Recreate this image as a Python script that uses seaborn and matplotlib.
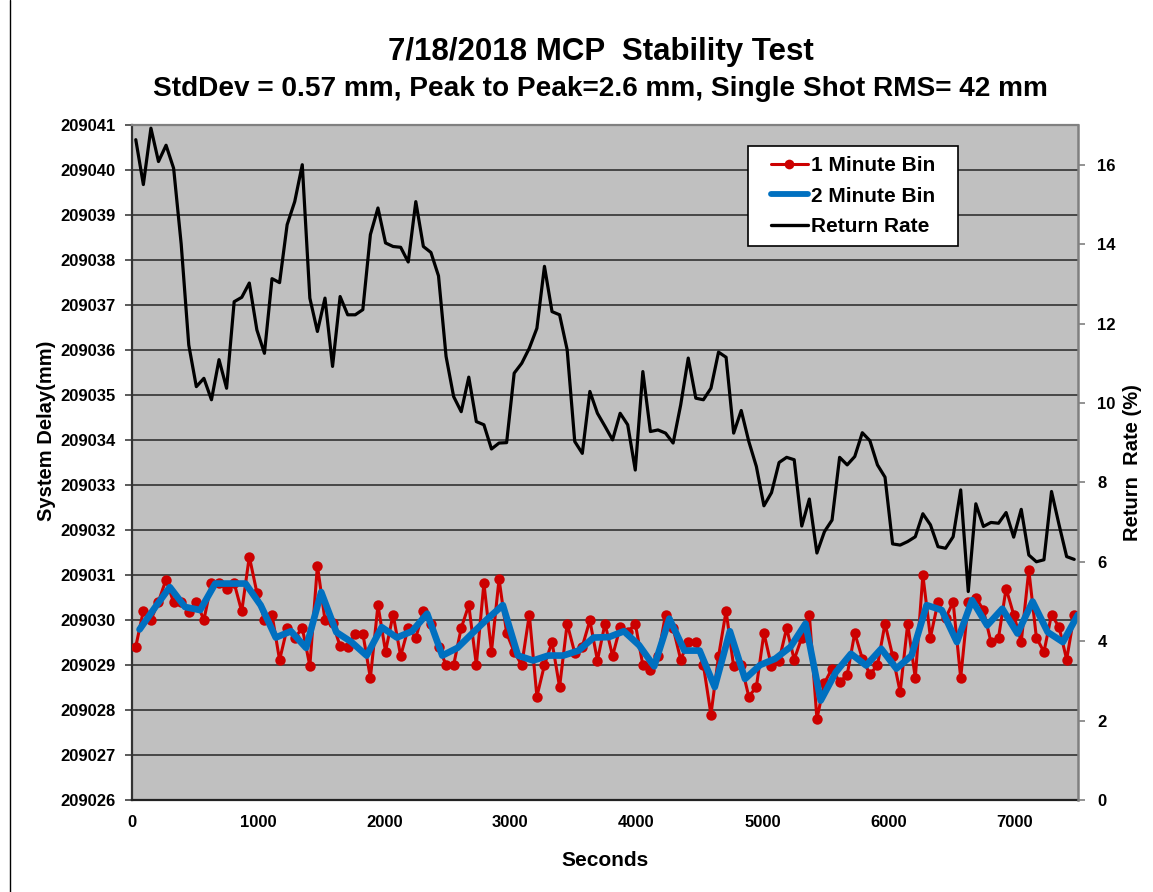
import numpy as np
import matplotlib
matplotlib.use("Agg")
import matplotlib.pyplot as plt
import seaborn as sns
from matplotlib.patches import Rectangle
from matplotlib.lines import Line2D
from matplotlib.ticker import MultipleLocator, FuncFormatter

# ---- data -------------------------------------------------------------
# sample times (s): 1-minute bins and 2-minute bins
seconds_1min = np.arange(30, 7471, 60)
seconds_2min = np.arange(60, 7501, 120)

# system delay, 1-minute bins (mm)
delay_1min = [
    209029.41, 209030.20, 209030.00, 209030.41, 209030.90, 209030.39, 209030.41, 209030.18, 209030.41, 209030.00,
    209030.82, 209030.82, 209030.68, 209030.82, 209030.19, 209031.41, 209030.61, 209030.00, 209030.12, 209029.11,
    209029.82, 209029.60, 209029.82, 209028.98, 209031.21, 209030.00, 209029.93, 209029.42, 209029.41, 209029.70,
    209029.70, 209028.71, 209030.33, 209029.30, 209030.12, 209029.20, 209029.82, 209029.61, 209030.19, 209029.92,
    209029.41, 209029.00, 209029.00, 209029.82, 209030.33, 209029.00, 209030.82, 209029.30, 209030.91, 209029.71,
    209029.29, 209029.00, 209030.12, 209028.30, 209029.00, 209029.51, 209028.51, 209029.92, 209029.27, 209029.41,
    209029.99, 209029.10, 209029.92, 209029.20, 209029.84, 209029.73, 209029.92, 209029.00, 209028.89, 209029.19,
    209030.12, 209029.82, 209029.12, 209029.51, 209029.51, 209029.00, 209027.90, 209029.19, 209030.20, 209028.97,
    209029.00, 209028.30, 209028.51, 209029.71, 209028.97, 209029.10, 209029.82, 209029.12, 209029.61, 209030.12,
    209027.80, 209028.60, 209028.92, 209028.62, 209028.78, 209029.71, 209029.14, 209028.80, 209028.99, 209029.92,
    209029.21, 209028.40, 209029.92, 209028.71, 209031.00, 209029.61, 209030.40, 209030.04, 209030.40, 209028.71,
    209030.40, 209030.50, 209030.22, 209029.51, 209029.61, 209030.70, 209030.12, 209029.51, 209031.11, 209029.61,
    209029.29, 209030.12, 209029.84, 209029.12, 209030.12,
]

# system delay, 2-minute bins (mm)
delay_2min = [
    209029.79, 209030.27, 209030.73, 209030.29, 209030.22, 209030.81, 209030.81, 209030.81, 209030.33, 209029.61,
    209029.75, 209029.38, 209030.62, 209029.73, 209029.51, 209029.21, 209029.84, 209029.61, 209029.75, 209030.14,
    209029.21, 209029.38, 209029.71, 209030.03, 209030.33, 209029.21, 209029.10, 209029.21, 209029.21, 209029.32,
    209029.61, 209029.62, 209029.75, 209029.44, 209028.97, 209030.03, 209029.32, 209029.32, 209028.51, 209029.75,
    209028.69, 209029.00, 209029.14, 209029.40, 209029.92, 209028.21, 209028.84, 209029.25, 209028.99, 209029.36,
    209028.92, 209029.21, 209030.33, 209030.22, 209029.51, 209030.44, 209029.88, 209030.25, 209029.70, 209030.41,
    209029.73, 209029.51, 209030.12,
]

# return rate (%), 1-minute bins
return_rate = [
    16.63, 15.50, 16.92, 16.08, 16.49, 15.91, 14.00, 11.46, 10.41, 10.62,
    10.08, 11.09, 10.37, 12.55, 12.66, 13.02, 11.84, 11.25, 13.13, 13.03,
    14.49, 15.07, 16.00, 12.64, 11.80, 12.64, 10.92, 12.68, 12.22, 12.22,
    12.35, 14.24, 14.91, 14.03, 13.94, 13.92, 13.55, 15.07, 13.94, 13.79,
    13.20, 11.17, 10.16, 9.78, 10.65, 9.53, 9.45, 8.84, 8.99, 9.00,
    10.75, 11.00, 11.38, 11.88, 13.44, 12.30, 12.22, 11.34, 9.03, 8.73,
    10.29, 9.74, 9.41, 9.07, 9.74, 9.45, 8.31, 10.79, 9.28, 9.32,
    9.24, 8.99, 9.95, 11.13, 10.12, 10.08, 10.37, 11.28, 11.15, 9.24,
    9.81, 9.03, 8.40, 7.41, 7.74, 8.50, 8.63, 8.57, 6.90, 7.58,
    6.22, 6.76, 7.05, 8.63, 8.44, 8.65, 9.25, 9.05, 8.44, 8.13,
    6.45, 6.42, 6.51, 6.63, 7.21, 6.93, 6.38, 6.34, 6.63, 7.81,
    5.25, 7.46, 6.89, 6.99, 6.97, 7.24, 6.62, 7.32, 6.17, 6.00,
    6.05, 7.77, 6.93, 6.13, 6.06,
]

series_labels = ["1 Minute Bin", "2 Minute Bin", "Return Rate"]
title_main = "7/18/2018 MCP  Stability Test"
title_sub = "StdDev = 0.57 mm, Peak to Peak=2.6 mm, Single Shot RMS= 42 mm"

# ---- style ------------------------------------------------------------
RED = "#CC0000"
BLUE = "#0070C0"
GRID = "#262626"
sns.set_theme(style="white")
plt.rcParams["font.family"] = ["Liberation Sans", "DejaVu Sans"]
plt.rcParams["font.weight"] = "bold"
plt.rcParams["text.color"] = "black"
plt.rcParams["axes.labelcolor"] = "black"
plt.rcParams["xtick.color"] = "black"
plt.rcParams["ytick.color"] = "black"

W, H = 1153, 892
fig = plt.figure(figsize=(W / 100, H / 100), dpi=100)
fig.patch.set_facecolor("white")

ax = fig.add_axes([132 / W, (H - 800) / H, 946 / W, 675 / H])
ax.set_facecolor("#C0C0C0")

sns.lineplot(x=seconds_1min, y=delay_1min, ax=ax, color=RED, linewidth=2.2,
             marker="o", markersize=7.5, markeredgecolor=RED,
             markerfacecolor=RED, markeredgewidth=0, zorder=3)
sns.lineplot(x=seconds_2min, y=delay_2min, ax=ax, color=BLUE, linewidth=4.8,
             zorder=4)

ax.set_xlim(0, 7500)
ax.set_ylim(209026, 209041)
ax.yaxis.set_major_locator(MultipleLocator(1))
ax.yaxis.set_major_formatter(FuncFormatter(lambda v, p: f"{int(round(v))}"))
ax.set_xticks(np.arange(0, 7001, 1000))
ax.yaxis.grid(True, color=GRID, linewidth=1.1)
ax.xaxis.grid(False)
ax.set_axisbelow(True)
ax.set_xlabel("")
ax.set_ylabel("")
ax.tick_params(axis="both", direction="out", length=5, width=1.2,
               color="#404040", labelcolor="black", labelsize=12)
ax.tick_params(axis="y", pad=7)
ax.tick_params(axis="x", pad=6)
for lab in ax.get_xticklabels() + ax.get_yticklabels():
    lab.set_fontweight("bold")

ax2 = ax.twinx()
sns.lineplot(x=seconds_1min, y=return_rate, ax=ax2, color="black",
             linewidth=2.3, zorder=3)
ax2.set_ylim(0, 17)
ax2.set_yticks(np.arange(0, 17, 2))
ax2.set_ylabel("")
ax2.tick_params(axis="y", direction="out", length=5, width=1.2,
                color="#808080", labelcolor="black", labelsize=12, pad=9)
for lab in ax2.get_yticklabels():
    lab.set_fontweight("bold")

for a in (ax, ax2):
    for s in a.spines.values():
        s.set_visible(False)
ax.spines["left"].set_visible(True)
ax.spines["left"].set_color("#333333")
ax.spines["left"].set_linewidth(1.6)
ax.spines["bottom"].set_visible(True)
ax.spines["bottom"].set_color("#222222")
ax.spines["bottom"].set_linewidth(1.6)
ax.spines["top"].set_visible(True)
ax.spines["top"].set_color("#808080")
ax.spines["top"].set_linewidth(1.6)
ax2.spines["right"].set_visible(True)
ax2.spines["right"].set_color("#808080")
ax2.spines["right"].set_linewidth(1.8)

# legend box
x0 = (748 - 132) / 946
x1 = (958 - 132) / 946
y0 = (800 - 246) / 675
y1 = (800 - 146) / 675
ax2.add_patch(Rectangle((x0, y0), x1 - x0, y1 - y0, transform=ax2.transAxes,
                        facecolor="white", edgecolor="black", linewidth=1.2,
                        zorder=10, clip_on=False))
handles = [
    Line2D([], [], color=RED, linewidth=2.2, marker="o", markersize=7,
           markeredgewidth=0),
    Line2D([], [], color=BLUE, linewidth=4.2),
    Line2D([], [], color="black", linewidth=2.4),
]
leg = ax2.legend(handles, series_labels, loc="center",
                 bbox_to_anchor=((x0 + x1) / 2, (y0 + y1) / 2),
                 bbox_transform=ax2.transAxes, frameon=False,
                 prop={"size": 15, "weight": "bold"}, handlelength=1.8,
                 handletextpad=0.15, labelspacing=0.55, borderpad=0,
                 numpoints=1)
leg.set_zorder(11)
for t in leg.get_texts():
    t.set_color("black")

# titles and axis labels
fig.text(601 / W, 1 - 52 / H, title_main, ha="center", va="center",
         fontsize=22.5, fontweight="bold", color="black")
fig.text(600 / W, 1 - 89 / H, title_sub, ha="center", va="center",
         fontsize=20.2, fontweight="bold", color="black")
fig.text(605 / W, 1 - 860 / H, "Seconds", ha="center", va="center",
         fontsize=15, fontweight="bold", color="black")
fig.text(47 / W, 1 - 431 / H, "System Delay(mm)", ha="center", va="center",
         rotation=90, fontsize=14.5, fontweight="bold", color="black")
fig.text(1132 / W, 1 - 463 / H, "Return  Rate (%)", ha="center", va="center",
         rotation=90, fontsize=14.5, fontweight="bold", color="black")

# chart-area frame edge on the left
fig.add_artist(Line2D([10.5 / W, 10.5 / W], [0, 1], transform=fig.transFigure,
                      color="black", linewidth=1.0))

fig.savefig("out.png", dpi=100, facecolor="white")
